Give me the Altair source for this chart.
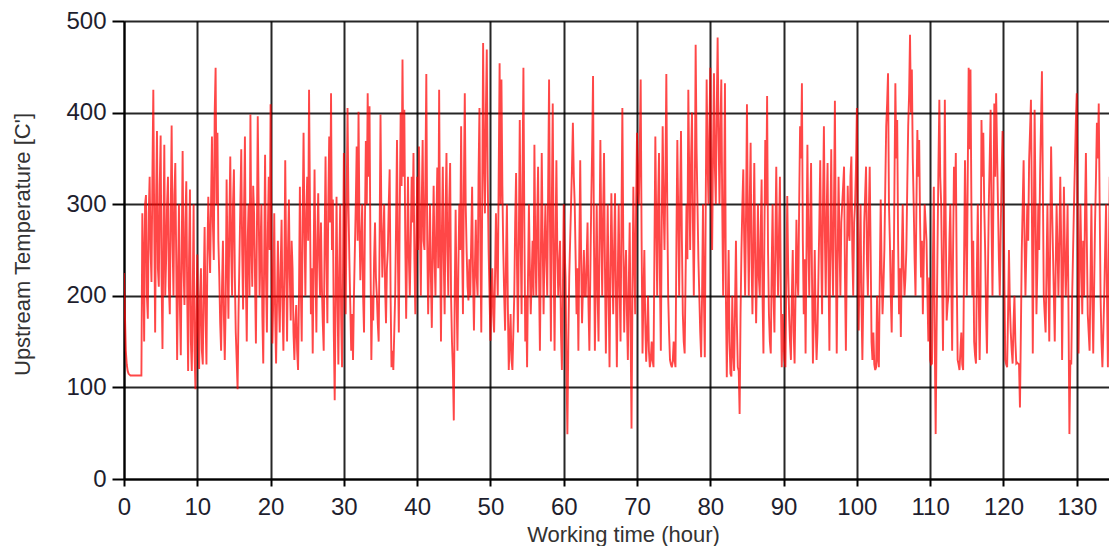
import altair as alt
import pandas as pd

# Upstream temperature samples, one every 0.125 h (8 per hour)
temps = [
    # 0 - 10 h
    225, 180, 140, 125, 118, 115, 114, 113,   113, 113, 113, 113, 113, 113, 113, 113,
    113, 113, 113, 113, 290, 240, 150, 300,   310, 200, 175, 290, 330, 250, 215, 330,
    425, 280, 160, 300, 380, 230, 210, 320,   375, 220, 142, 260, 365, 200, 240, 300,
    330, 210, 180, 290, 386, 260, 200, 310,   345, 240, 130, 220, 300, 190, 135, 250,
    358, 230, 190, 280, 325, 200, 118, 240,   316, 150, 118, 200, 300, 140, 98, 180,
    # 10 - 20 h
    245, 160, 120, 200, 230, 140, 125, 210,   275, 180, 125, 240, 308, 260, 225, 300,
    374, 280, 239, 400, 449, 300, 378, 260,   221, 170, 140, 210, 260, 180, 130, 190,
    327, 240, 175, 280, 352, 250, 200, 300,   338, 220, 160, 130, 98, 180, 240, 300,
    360, 250, 185, 290, 374, 220, 150, 260,   300, 200, 398, 260, 210, 320, 290, 220,
    148, 260, 396, 300, 200, 250, 300, 180,   126, 240, 354, 220, 160, 270, 330, 250,
    # 20 - 30 h
    409, 250, 148, 200, 290, 180, 126, 190,   260, 200, 160, 230, 283, 190, 140, 220,
    348, 240, 150, 250, 305, 220, 173, 260,   230, 160, 130, 170, 190, 140, 119, 200,
    319, 210, 150, 280, 378, 270, 200, 290,   330, 260, 425, 300, 180, 230, 137, 240,
    338, 230, 160, 260, 312, 240, 200, 280,   210, 170, 140, 260, 352, 240, 170, 300,
    374, 280, 421, 250, 305, 160, 86, 200,    308, 200, 125, 230, 300, 180, 122, 220,
    # 30 - 40 h
    356, 250, 180, 300, 405, 300, 240, 190,   140, 180, 130, 200, 250, 300, 363, 260,
    401, 280, 217, 260, 300, 200, 160, 280,   369, 300, 421, 330, 407, 250, 130, 200,
    173, 240, 280, 220, 200, 170, 150, 260,   398, 280, 220, 260, 300, 210, 170, 230,
    250, 300, 338, 200, 122, 140, 119, 160,   200, 280, 370, 240, 160, 290, 400, 320,
    458, 330, 403, 260, 175, 250, 330, 240,   200, 260, 330, 280, 356, 240, 180, 250,
    # 40 - 50 h
    330, 250, 363, 280, 200, 300, 370, 260,   250, 330, 442, 260, 180, 240, 300, 220,
    165, 250, 320, 240, 200, 280, 340, 230,   425, 260, 150, 270, 341, 240, 180, 290,
    356, 250, 200, 300, 345, 200, 150, 120,   64, 200, 294, 200, 140, 230, 300, 250,
    385, 260, 180, 320, 421, 300, 250, 210,   195, 240, 200, 260, 319, 220, 162, 230,
    283, 220, 200, 330, 405, 250, 160, 300,   476, 350, 290, 400, 469, 330, 250, 200,
    # 50 - 60 h
    151, 200, 230, 180, 160, 220, 290, 240,   200, 330, 454, 300, 436, 320, 250, 200,
    162, 240, 300, 190, 119, 150, 180, 130,   119, 160, 200, 280, 334, 230, 160, 260,
    392, 260, 180, 330, 449, 280, 150, 200,   122, 220, 300, 230, 180, 220, 260, 200,
    365, 250, 200, 280, 341, 220, 140, 240,   356, 260, 180, 250, 300, 240, 200, 320,
    436, 280, 150, 300, 410, 240, 140, 260,   348, 250, 200, 230, 260, 160, 119, 200,
    # 60 - 70 h
    300, 250, 220, 120, 49, 150, 220, 260,    300, 340, 389, 330, 300, 240, 180, 230,
    140, 250, 348, 240, 170, 210, 250, 200,   200, 240, 280, 190, 140, 220, 300, 360,
    440, 260, 140, 220, 300, 200, 150, 260,   370, 270, 200, 290, 356, 230, 137, 220,
    300, 200, 122, 230, 312, 240, 180, 250,   312, 200, 122, 220, 300, 210, 150, 280,
    405, 260, 160, 220, 250, 180, 130, 210,   280, 160, 55, 200, 319, 240, 180, 300,
    # 70 - 80 h
    378, 320, 300, 360, 436, 260, 137, 200,   250, 170, 128, 160, 200, 140, 122, 130,
    150, 130, 122, 250, 374, 280, 200, 300,   356, 220, 140, 280, 385, 300, 250, 330,
    442, 300, 200, 160, 130, 125, 122, 128,   150, 130, 122, 260, 370, 290, 200, 300,
    380, 260, 180, 150, 137, 220, 300, 240,   425, 330, 250, 350, 400, 280, 200, 300,
    474, 360, 300, 240, 200, 160, 133, 200,   300, 200, 133, 300, 436, 350, 300, 380,
    # 80 - 90 h
    449, 320, 250, 360, 443, 340, 300, 400,   482, 380, 300, 380, 436, 300, 200, 300,
    432, 200, 111, 180, 250, 150, 115, 112,   200, 140, 118, 190, 260, 170, 122, 118,
    71, 180, 250, 300, 338, 260, 200, 290,    409, 280, 200, 300, 367, 240, 180, 260,
    345, 240, 170, 230, 300, 220, 200, 270,   327, 200, 137, 260, 370, 300, 418, 250,
    180, 150, 137, 230, 300, 200, 160, 260,   341, 250, 200, 270, 330, 200, 122, 180,
    # 90 - 100 h
    151, 130, 122, 220, 309, 230, 180, 150,   130, 200, 250, 160, 126, 200, 283, 220,
    200, 300, 385, 350, 432, 260, 180, 240,   137, 250, 365, 260, 200, 280, 345, 220,
    126, 180, 250, 170, 130, 160, 220, 280,   348, 250, 180, 300, 385, 270, 200, 290,
    345, 230, 140, 260, 360, 250, 200, 300,   413, 250, 137, 240, 330, 260, 200, 280,
    300, 320, 341, 220, 140, 240, 320, 270,   260, 330, 352, 250, 200, 280, 300, 340,
    # 100 - 110 h
    405, 260, 162, 240, 300, 190, 130, 200,   280, 310, 341, 240, 200, 290, 341, 250,
    150, 130, 160, 125, 119, 122, 200, 130,   122, 220, 305, 230, 180, 210, 250, 320,
    385, 410, 443, 300, 260, 200, 160, 250,   200, 320, 432, 350, 392, 260, 180, 230,
    155, 240, 300, 230, 200, 220, 250, 320,   385, 420, 485, 400, 447, 350, 300, 240,
    200, 300, 381, 330, 370, 280, 220, 260,   180, 240, 300, 280, 260, 200, 150, 220,
    # 110 - 120 h
    130, 125, 126, 240, 319, 150, 49, 160,    250, 340, 414, 330, 300, 220, 140, 260,
    414, 280, 173, 190, 200, 260, 300, 220,   140, 250, 341, 300, 356, 220, 130, 125,
    119, 140, 160, 125, 119, 240, 348, 270,   200, 330, 449, 360, 447, 300, 200, 260,
    150, 135, 126, 230, 300, 200, 130, 200,   392, 330, 378, 300, 250, 180, 137, 220,
    300, 350, 403, 280, 200, 300, 410, 330,   421, 360, 300, 240, 200, 270, 334, 380,
    # 120 - 130 h
    334, 220, 130, 125, 122, 180, 250, 190,   160, 140, 126, 170, 200, 150, 126, 127,
    126, 125, 78, 160, 250, 300, 348, 260,    200, 250, 300, 260, 348, 380, 414, 300,
    137, 260, 403, 300, 180, 230, 300, 250,   334, 390, 445, 320, 200, 180, 160, 230,
    300, 220, 150, 260, 363, 300, 250, 200,   150, 230, 300, 250, 200, 260, 330, 260,
    130, 220, 319, 250, 200, 240, 300, 180,   49, 130, 125, 200, 250, 300, 345, 390,
    # 130 - 135 h
    421, 280, 137, 220, 300, 240, 180, 260,   200, 290, 356, 260, 180, 160, 140, 220,
    300, 200, 137, 210, 280, 330, 389, 350,   410, 300, 200, 150, 122, 160, 200, 250,
    300, 200, 122, 240, 330, 250, 160, 260,   378, 300, 200, 250, 300,
]
sample_step_hours = 0.125
hours = [i * sample_step_hours for i in range(len(temps))]

x_ticks = [0, 10, 20, 30, 40, 50, 60, 70, 80, 90, 100, 110, 120, 130]
y_ticks = [0, 100, 200, 300, 400, 500]

df = pd.DataFrame({"hour": hours, "temp": temps})

FONT = "Liberation Sans"

chart = (
    alt.Chart(df)
    .mark_line(color="#ff0000", strokeWidth=1.9, opacity=0.72, clip=True)
    .encode(
        x=alt.X(
            "hour:Q",
            scale=alt.Scale(domain=[0, 134.4], nice=False, zero=False),
            axis=alt.Axis(
                values=x_ticks,
                title="Working time (hour)",
                titleX=499,
                titleY=62,
                titleBaseline="alphabetic",
                titleAlign="center",
                tickSize=7,
                labelPadding=9,
                labelFlush=False,
            ),
        ),
        y=alt.Y(
            "temp:Q",
            scale=alt.Scale(domain=[0, 500], nice=False),
            axis=alt.Axis(
                values=y_ticks,
                title="Upstream Temperature [C']",
                titleX=-102,
                titleY=223,
                titleAngle=270,
                titleBaseline="middle",
                titleAlign="center",
                tickSize=12,
                labelPadding=6,
            ),
        ),
    )
    .properties(
        width=985,
        height=458,
        padding={"left": 116, "top": 13, "right": 0, "bottom": 67},
        autosize=alt.AutoSizeParams(type="none"),
    )
    .configure_view(stroke=None)
    .configure_axis(
        grid=True,
        gridColor="#000000",
        gridOpacity=0.85,
        gridWidth=2,
        domainColor="#000000",
        domainWidth=2,
        tickColor="#000000",
        tickWidth=2,
        labelFont=FONT,
        labelFontSize=24,
        labelColor="#1e1e2e",
        titleFont=FONT,
        titleFontSize=22,
        titleFontWeight="normal",
        titleColor="#333333",
    )
)

chart.save("out.html", embed_options={"renderer": "svg", "actions": False})
